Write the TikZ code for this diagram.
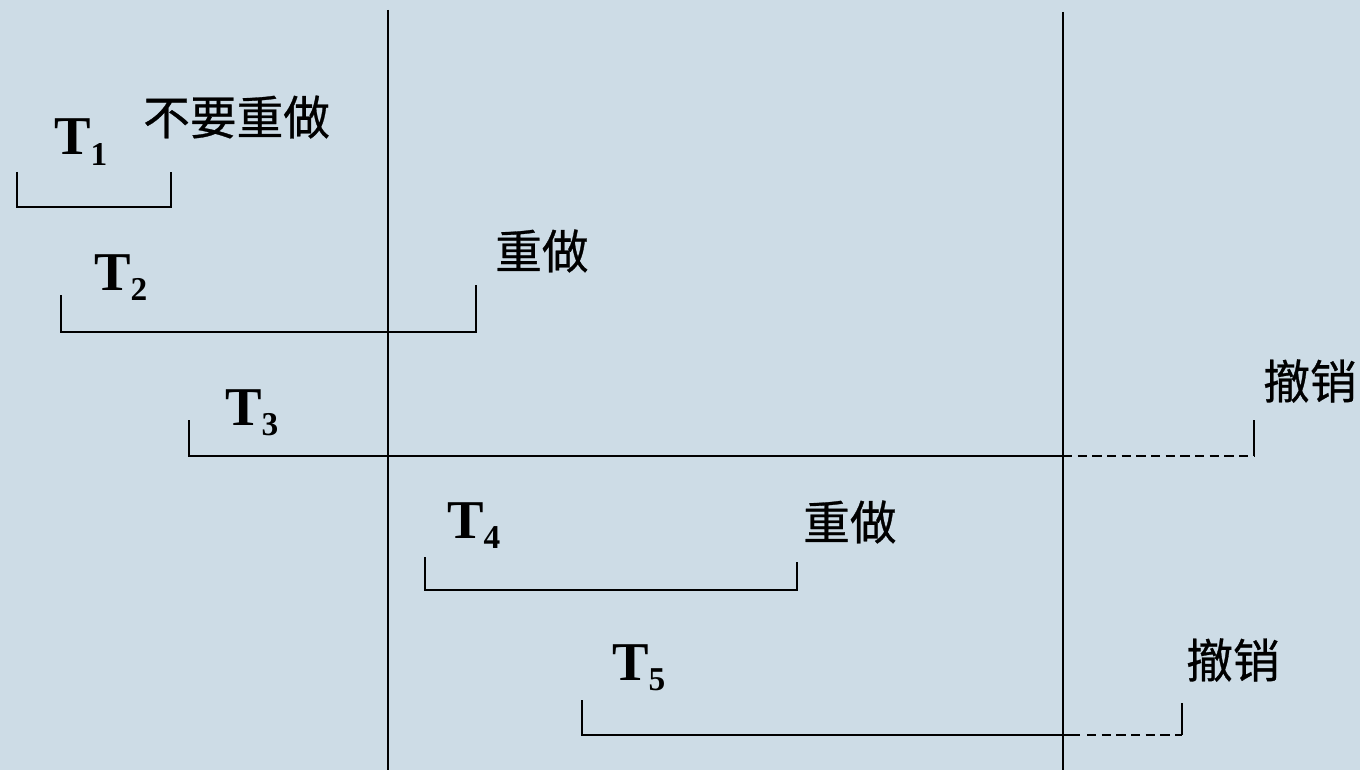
\documentclass[tikz,border=0pt]{standalone}
\usepackage{fontspec}
\setmainfont{Liberation Serif}
\newfontfamily\cjk[FakeBold=0.6]{Noto Sans CJK SC}
\definecolor{bgc}{RGB}{205,220,230}
\newcommand\tlab[1]{\fontsize{41}{44}\selectfont\bfseries T\raisebox{-8pt}{\fontsize{25}{28}\selectfont #1}}
\begin{document}
\begin{tikzpicture}[x=0.75pt,y=-0.75pt,
  line/.style={line width=1.8pt,black},
  dline/.style={line width=1.8pt,black,dash pattern=on 7pt off 4pt},
  tl/.style={anchor=base west,inner sep=0pt},
  cl/.style={anchor=west,inner sep=0pt,font=\cjk\fontsize{35}{38}\selectfont}]
\fill[bgc] (0,0) rectangle (1360,770);
\useasboundingbox (0,0) rectangle (1360,770);
% vertical lines
\coordinate (v1t) at (388,10); \coordinate (v1b) at (388,770);
\coordinate (v2t) at (1063,12); \coordinate (v2b) at (1063,770);
\draw[line] (v1t) -- (v1b);
\draw[line] (v2t) -- (v2b);
% T1
\coordinate (a1) at (17,172); \coordinate (b1) at (17,207);
\coordinate (c1) at (171,207); \coordinate (d1) at (171,172);
\draw[line] (a1) -- (b1) -- (c1) -- (d1);
\node[tl] (t1) at (54,155) {\tlab{1}};
\node[cl] (l1) at (143,117) {不要重做};
% T2
\coordinate (a2) at (61,295); \coordinate (b2) at (61,332);
\coordinate (c2) at (476,332); \coordinate (d2) at (476,285);
\draw[line] (a2) -- (b2) -- (c2) -- (d2);
\node[tl] (t2) at (94,290) {\tlab{2}};
\node[cl] (l2) at (495,251) {重做};
% T3
\coordinate (a3) at (189,420); \coordinate (b3) at (189,456);
\coordinate (m3) at (1063,456);
\coordinate (c3) at (1254,456); \coordinate (d3) at (1254,420);
\draw[line] (a3) -- (b3) -- (m3);
\draw[dline] (m3) -- (c3);
\draw[line] (c3) -- (d3);
\node[tl] (t3) at (225,425) {\tlab{3}};
\node[cl] (l3) at (1263,381) {撤销};
% T4
\coordinate (a4) at (425,557); \coordinate (b4) at (425,590);
\coordinate (c4) at (797,590); \coordinate (d4) at (797,562);
\draw[line] (a4) -- (b4) -- (c4) -- (d4);
\node[tl] (t4) at (447,538) {\tlab{4}};
\node[cl] (l4) at (803,522) {重做};
% T5
\coordinate (a5) at (582,700); \coordinate (b5) at (582,735);
\coordinate (m5) at (1080,735); \coordinate (n5) at (1087,735);
\coordinate (c5) at (1182,735); \coordinate (d5) at (1182,703);
\draw[line] (a5) -- (b5) -- (m5);
\draw[dline] (n5) -- (c5);
\draw[line] (c5) -- (d5);
\node[tl] (t5) at (612,680) {\tlab{5}};
\node[cl] (l5) at (1186,660) {撤销};
\end{tikzpicture}
\end{document}
